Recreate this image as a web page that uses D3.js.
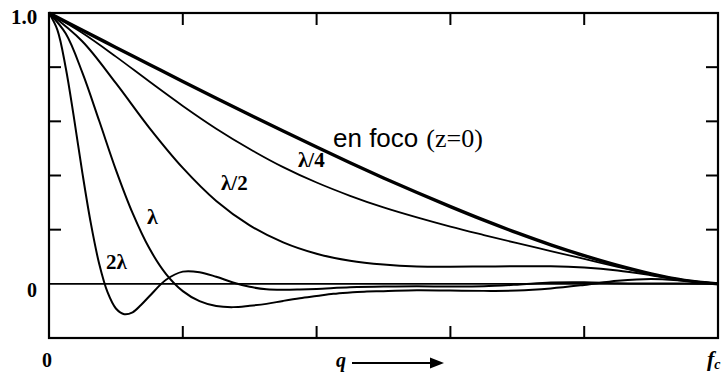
<!DOCTYPE html>
<html>
<head>
<meta charset="utf-8">
<script src="https://cdn.jsdelivr.net/npm/d3@7"></script>
<style>
  html, body { margin: 0; padding: 0; background: #fff; }
  svg { display: block; }
</style>
</head>
<body>
<svg id="chart" width="723" height="374"></svg>
<script>
// Normalised spatial frequency q / f_c for the smoother curves
const freqCoarse = [0, 0.05, 0.1, 0.15, 0.2, 0.25, 0.3, 0.35, 0.4, 0.45, 0.5,
                    0.55, 0.6, 0.65, 0.7, 0.75, 0.8, 0.85, 0.9, 0.95, 1];
// Denser sampling for the strongly defocused curves
const freqLambda = [0, 0.025, 0.05, 0.075, 0.1, 0.125, 0.15, 0.175, 0.2, 0.225, 0.25,
                    0.275, 0.3, 0.325, 0.35, 0.375, 0.4, 0.425, 0.45, 0.475, 0.5,
                    0.55, 0.6, 0.65, 0.7, 0.75, 0.8, 0.85, 0.9, 0.95, 1];
const freqTwoLambda = [0, 0.0125, 0.025, 0.0375, 0.05, 0.0625, 0.075, 0.0875, 0.1, 0.1125,
                       0.125, 0.1375, 0.15, 0.175, 0.2, 0.225, 0.25, 0.275, 0.3, 0.325,
                       0.35, 0.375, 0.4, 0.45, 0.5, 0.55, 0.6, 0.65, 0.7, 0.75,
                       0.8, 0.85, 0.9, 0.95, 1];

// MTF values per defocus
const mtfFocus = [1, 0.936, 0.873, 0.810, 0.747, 0.685, 0.624, 0.564, 0.505, 0.447, 0.391,
                  0.337, 0.285, 0.235, 0.188, 0.144, 0.104, 0.068, 0.037, 0.013, 0];
const mtfQuarter = [1, 0.926, 0.839, 0.747, 0.657, 0.573, 0.498, 0.431, 0.374, 0.325, 0.282,
                    0.245, 0.211, 0.180, 0.150, 0.121, 0.092, 0.063, 0.036, 0.013, 0];
const mtfHalf = [1, 0.895, 0.741, 0.576, 0.428, 0.306, 0.216, 0.153, 0.111, 0.085, 0.071,
                 0.064, 0.063, 0.064, 0.065, 0.065, 0.060, 0.049, 0.032, 0.013, 0];
const mtfLambda = [1, 0.924, 0.779, 0.602, 0.421, 0.261, 0.131, 0.036, -0.027, -0.064, -0.082,
                   -0.086, -0.081, -0.074, -0.063, -0.053, -0.045, -0.037, -0.032, -0.028, -0.027,
                   -0.024, -0.025, -0.026, -0.025, -0.017, -0.004, 0.011, 0.018, 0.011, 0];
const mtfTwoLambda = [1, 0.938, 0.798, 0.610, 0.408, 0.224, 0.074, -0.031, -0.091, -0.112,
                      -0.105, -0.078, -0.046, 0.015, 0.045, 0.043, 0.026, 0.005, -0.011, -0.020,
                      -0.022, -0.021, -0.019, -0.013, -0.010, -0.009, -0.010, -0.009, -0.003, 0.005,
                      0.006, 0.002, 0.001, 0.001, 0];

const yTicks = [-0.2, 0, 0.2, 0.4, 0.6, 0.8, 1.0];
const xTicks = [0.2, 0.4, 0.6, 0.8];

const svg = d3.select("#chart");
const plotLeft = 49, plotRight = 718, plotTop = 13, plotBottom = 338;

const x = d3.scaleLinear().domain([0, 1]).range([plotLeft, plotRight]);
const y = d3.scaleLinear().domain([-0.2, 1.0]).range([plotBottom, plotTop]);

const serif = "'Liberation Serif', 'DejaVu Serif', serif";
const sans = "'Liberation Sans', Arial, sans-serif";

// Inward ticks on all four sides
const tickLen = 12;
const g = svg.append("g").attr("stroke", "#000").attr("stroke-width", 2);
yTicks.filter(v => v > 0 && v < 1).forEach(v => {
  g.append("line").attr("x1", x(0)).attr("x2", x(0) + tickLen).attr("y1", y(v)).attr("y2", y(v));
  g.append("line").attr("x1", x(1)).attr("x2", x(1) - tickLen).attr("y1", y(v)).attr("y2", y(v));
});
xTicks.forEach(v => {
  g.append("line").attr("x1", x(v)).attr("x2", x(v)).attr("y1", y(1)).attr("y2", y(1) + tickLen);
  g.append("line").attr("x1", x(v)).attr("x2", x(v)).attr("y1", y(-0.2)).attr("y2", y(-0.2) - tickLen);
});

// Zero reference line
svg.append("line")
  .attr("x1", x(0)).attr("x2", x(1)).attr("y1", y(0)).attr("y2", y(0))
  .attr("stroke", "#000").attr("stroke-width", 1.6);

// Frame
svg.append("rect")
  .attr("x", x(0)).attr("y", y(1)).attr("width", x(1) - x(0)).attr("height", y(-0.2) - y(1))
  .attr("fill", "none").attr("stroke", "#000").attr("stroke-width", 2.2);

const line = d3.line().x(d => x(d[0])).y(d => y(d[1])).curve(d3.curveCatmullRom.alpha(0.5));
const series = [
  { f: freqCoarse, v: mtfFocus, w: 3.4 },
  { f: freqCoarse, v: mtfQuarter, w: 1.8 },
  { f: freqCoarse, v: mtfHalf, w: 2.0 },
  { f: freqLambda, v: mtfLambda, w: 2.0 },
  { f: freqTwoLambda, v: mtfTwoLambda, w: 2.0 }
];
svg.append("g").selectAll("path").data(series).join("path")
  .attr("d", s => line(s.f.map((q, i) => [q, s.v[i]])))
  .attr("fill", "none").attr("stroke", "#000")
  .attr("stroke-width", s => s.w).attr("stroke-linejoin", "round");

// Axis labels
const txt = (t, px, py, opts = {}) => svg.append("text")
  .attr("x", px).attr("y", py)
  .attr("font-family", opts.family || serif)
  .attr("font-size", opts.size || 20)
  .attr("font-weight", opts.weight || "bold")
  .attr("font-style", opts.style || "normal")
  .attr("text-anchor", opts.anchor || "start")
  .attr("fill", "#000")
  .text(t);

txt("1.0", 11, 24, { size: 21 });
txt("0", 27, 297);
txt("0", 42, 367);

// q axis label with arrow
txt("q", 336, 367, { style: "italic" });
svg.append("line").attr("x1", 352).attr("x2", 432).attr("y1", 363).attr("y2", 363)
  .attr("stroke", "#000").attr("stroke-width", 2);
svg.append("path").attr("d", "M430,357.5 L444,363 L430,368.5 Z").attr("fill", "#000");

// f_c label
const fc = txt("f", 707, 366, { style: "italic", size: 22 });
fc.append("tspan").attr("font-size", 14).attr("dy", 3).text("c");

// Curve labels
txt("\u03BB/4", 298, 167, { size: 21 });
txt("\u03BB/2", 221, 190, { size: 21 });
txt("\u03BB", 147, 224, { size: 22 });
txt("2\u03BB", 106, 269, { size: 21 });

const foco = txt("en foco", 333, 147, { family: sans, weight: "normal", size: 26 });
foco.append("tspan").attr("font-family", serif).attr("dx", 8).text("(z=0)");
</script>
</body>
</html>
